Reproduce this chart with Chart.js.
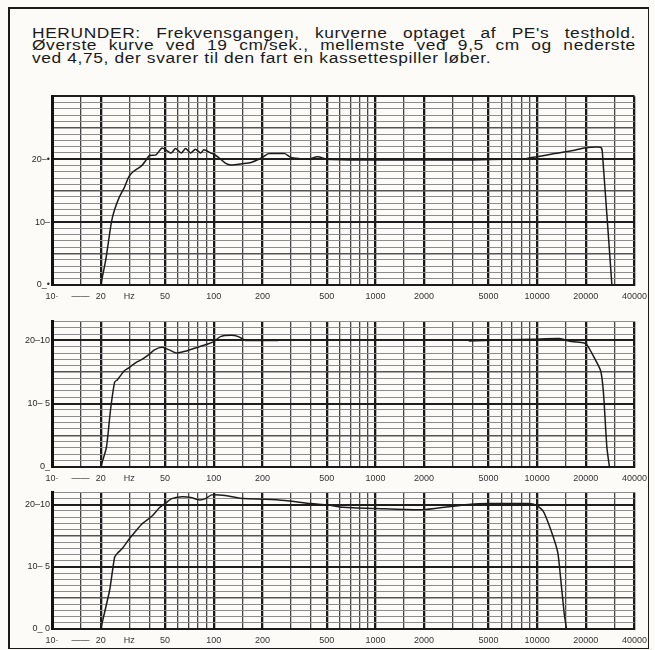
<!DOCTYPE html>
<html lang="da">
<head>
<meta charset="UTF-8">
<title>Frekvensgang</title>
<script src="https://cdn.jsdelivr.net/npm/chart.js"></script>
<style>
    html, body { margin: 0; padding: 0; background: #fcfbf8; }
    body { width: 655px; height: 650px; position: relative; overflow: hidden; }
    .frame {
        position: absolute; left: 8px; top: 7px; width: 638px; height: 639px;
        border: 2px solid #1a1a1a; border-right-width: 1px; border-bottom-width: 1px;
    }
    .caption {
        position: absolute; left: 32px; top: 27px; width: 487px;
        transform: scaleX(1.24); transform-origin: left top;
        font-family: "Liberation Sans", Arial, sans-serif;
        font-size: 14px; line-height: 12.3px; color: #1a1a1a; letter-spacing: 0.5px;
    }
    .caption div { text-align: justify; text-align-last: justify; white-space: nowrap; }
    .caption div.last { text-align-last: left; }
    canvas { position: absolute; }
</style>
</head>
<body>
<div class="frame"></div>
<div class="caption">
    <div>HERUNDER: Frekvensgangen, kurverne optaget af PE's testhold.</div>
    <div>Øverste kurve ved 19 cm/sek., mellemste ved 9,5 cm og nederste</div>
    <div class="last">ved 4,75, der svarer til den fart en kassettespiller løber.</div>
</div>
<canvas id="c19" style="left:12px; top:89px;" width="641" height="215"></canvas>
<canvas id="c95" style="left:12px; top:314px;" width="641" height="172"></canvas>
<canvas id="c475" style="left:12px; top:485px;" width="641" height="163"></canvas>

<script>
// frequency grid (Hz)
const gridFreqs = [10, 15, 20, 30, 40, 50, 60, 70, 80, 90, 100, 150, 200, 300, 400, 500, 600, 700, 800, 900,
    1000, 1500, 2000, 3000, 4000, 5000, 6000, 7000, 8000, 9000, 10000, 15000, 20000, 30000, 40000];
const majorFreqs = [10, 20, 50, 100, 200, 500, 1000, 2000, 5000, 10000, 20000, 40000];
const labelFreqs = [10, 15, 20, 30, 50, 100, 200, 500, 1000, 2000, 5000, 10000, 20000, 40000];
const labelTexts = ['10·', '——', '20', 'Hz', '50', '100', '200', '500', '1000', '2000', '5000', '10000', '20000', '40000'];

// top curve, 19 cm/sek
const freq19 = [20, 21.5, 23.3, 24.4, 26, 28, 30, 32, 35.6, 38, 40, 44, 48, 54.5, 58, 63, 67, 72, 77, 83, 87, 96,
    100, 107, 118, 128, 150, 170, 197, 218, 250, 276, 300, 340, 380, 440, 505, 700, 1000, 2000, 4000, 6500,
    8500, 10000, 12800, 16700, 19500, 24700, 25300, 29000, 29500];
const db19 = [0, 4, 10, 12, 13.9, 15.5, 17.3, 18.1, 18.9, 19.8, 20.6, 20.7, 21.8, 21.0, 21.7, 21.0, 21.7, 21.0, 21.6, 21.0, 21.5, 21.0,
    20.8, 20.3, 19.4, 19.1, 19.3, 19.5, 20.2, 20.9, 20.9, 20.9, 20.3, 20.1, 20.0, 20.4, 20.0, 19.9, 19.9, 19.9, 19.9, 20.0,
    20.1, 20.4, 20.9, 21.4, 21.8, 21.9, 21.2, 0, -1];

// middle curve, 9,5 cm (faded between 250 Hz and 3,8 kHz)
const freq95 = [20, 21.7, 23, 24.4, 25.4, 28, 30, 33, 36, 39.5, 43, 48, 53, 59, 67, 77, 89, 100, 110, 128, 142, 157,
    197, 250, 1000, 3775, 4700, 9600, 13800, 15700, 19500, 20200, 22300, 24700, 25700, 27000, 28000];
const db95 = [0, 3.1, 9, 13.4, 13.8, 15.2, 15.7, 16.5, 17, 17.7, 18.5, 18.9, 18.5, 18, 18.3, 18.8, 19.3, 19.8, 20.6, 20.8, 20.6, 20.0,
    20.0, 20.0, null, 19.9, 20.0, 20.2, 20.3, 19.9, 19.6, 19.4, 17.5, 15.2, 11.8, 3.1, 0];

// bottom curve, 4,75 cm
const freq475 = [20, 22.7, 24.4, 25.4, 27.3, 30, 33, 36, 41.6, 46, 50.6, 55, 63.5, 72, 81, 89, 97, 118, 153, 208, 276, 400,
    505, 630, 1000, 1950, 2850, 3900, 5000, 8800, 9800, 10900, 12100, 13400, 13900, 14700, 15200];
const db475 = [0, 6.2, 11.6, 12.2, 13, 14.5, 15.8, 16.9, 18.2, 19.5, 20.3, 21, 21.3, 21.2, 20.8, 21, 21.6, 21.5, 21, 20.9, 20.7, 20.2,
    20, 19.6, 19.4, 19.2, 19.7, 20.1, 20.2, 20.2, 20, 19, 16.1, 12.4, 8.8, 2.5, 0];

// y tick labels per panel
const yLabels19 = { 0: '0_•', 10: '10–', 20: '20–•' };
const yLabels95 = { 0: '0_', 10: '10– 5', 20: '20–10' };
const yLabels475 = { 0: '0_ 0', 10: '10– 5', 20: '20–10' };

function makePanel(id, freqs, dbs, yMax, yLabels) {
    const pts = freqs.map((f, i) => ({ x: f, y: dbs[i] }));
    new Chart(document.getElementById(id), {
        type: 'line',
        data: {
            datasets: [{
                data: pts,
                borderColor: '#1c1c1c',
                borderWidth: 1.5,
                pointRadius: 0,
                tension: 0.2,
                spanGaps: false
            }]
        },
        options: {
            responsive: false,
            animation: false,
            layout: { padding: { top: 4, right: 16, bottom: 0, left: 0 } },
            plugins: { legend: { display: false }, tooltip: { enabled: false } },
            scales: {
                x: {
                    type: 'logarithmic',
                    min: 10,
                    max: 40000,
                    afterBuildTicks: axis => { axis.ticks = gridFreqs.map(v => ({ value: v })); },
                    afterFit: s => { s.height = 19; },
                    ticks: {
                        autoSkip: false,
                        maxRotation: 0,
                        padding: 6,
                        color: '#333',
                        font: { family: '"Liberation Sans", Arial, sans-serif', size: 9 },
                        callback: v => {
                            const k = labelFreqs.indexOf(v);
                            return k >= 0 ? labelTexts[k] : '';
                        }
                    },
                    grid: {
                        drawTicks: false,
                        color: c => majorFreqs.includes(c.tick.value) ? '#1a1a1a' : '#444',
                        lineWidth: c => majorFreqs.includes(c.tick.value) ? 2.3 : 1.3
                    },
                    border: { display: true, color: '#1a1a1a', width: 2 }
                },
                y: {
                    min: 0,
                    max: yMax,
                    afterFit: s => { s.width = 40; },
                    ticks: {
                        stepSize: 1,
                        autoSkip: false,
                        padding: 2,
                        color: '#2a2a2a',
                        font: { family: '"Liberation Sans", Arial, sans-serif', size: 9 },
                        callback: v => yLabels[v] ?? ''
                    },
                    grid: {
                        drawTicks: false,
                        color: c => c.tick.value % 10 === 0 ? '#1e1e1e' : (c.tick.value % 5 === 0 ? '#555' : '#8c8c8c'),
                        lineWidth: c => c.tick.value % 10 === 0 ? 2 : (c.tick.value % 5 === 0 ? 1.4 : 1.1)
                    },
                    border: { display: true, color: '#111', width: 3 }
                }
            }
        }
    });
}

makePanel('c19', freq19, db19, 30, yLabels19);
makePanel('c95', freq95, db95, 23, yLabels95);
makePanel('c475', freq475, db475, 22, yLabels475);
</script>
</body>
</html>
